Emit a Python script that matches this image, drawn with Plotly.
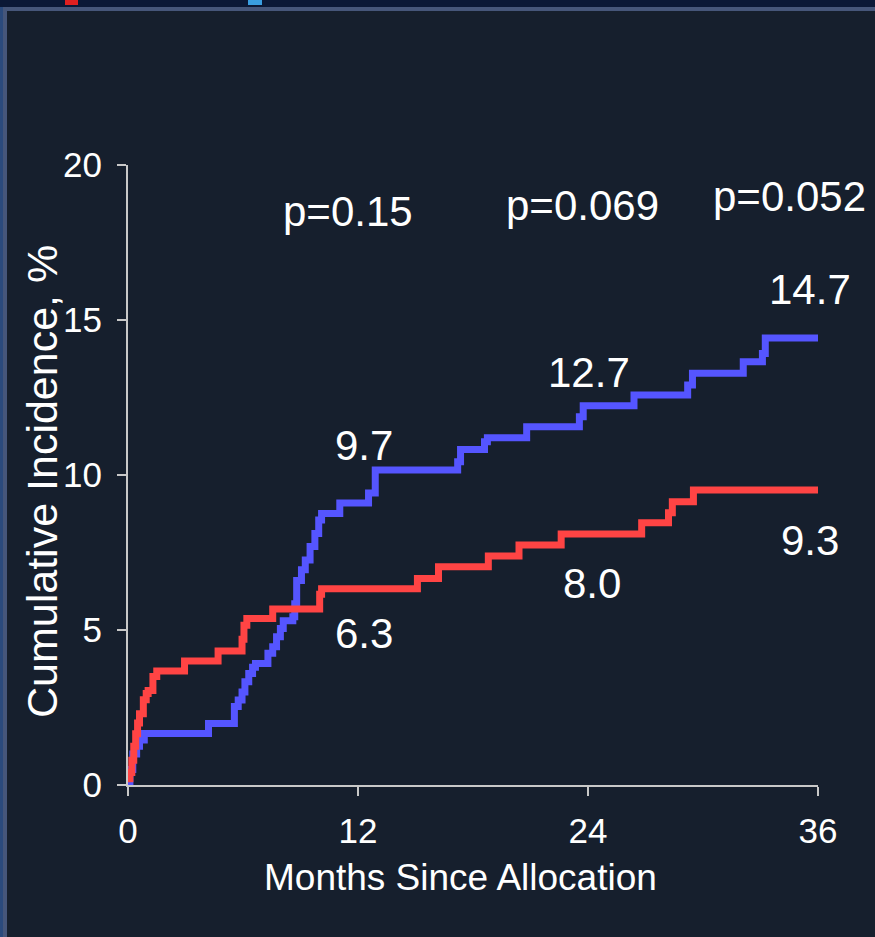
import plotly.graph_objects as go

# Data (months, cumulative incidence %)
red_t = [0, 0.1, 0.2, 0.3, 0.4, 0.5, 0.6, 0.8, 0.95, 1.05,
         1.3, 1.5, 2.95, 4.7, 5.95, 6.05, 6.2, 7.55, 10.0, 10.1,
         15.1, 16.2, 18.8, 20.4, 22.6, 26.8, 28.2, 28.4, 29.5, 36]
red_v = [0.2, 0.4, 0.8, 1.25, 1.65, 2.0, 2.3, 2.75, 2.95, 3.05,
         3.5, 3.68, 4.0, 4.32, 4.7, 5.15, 5.37, 5.68, 6.15, 6.33,
         6.66, 7.04, 7.39, 7.74, 8.1, 8.46, 8.78, 9.14, 9.52, 9.52]

blue_t = [0, 0.1, 0.25, 0.45, 0.6, 0.85,
          4.2, 5.55, 5.75, 5.95, 6.1, 6.3, 6.5, 6.65,
          7.3, 7.55, 7.75, 7.95, 8.1, 8.6, 8.7, 8.8,
          9.05, 9.25, 9.5, 9.75, 9.95, 10.1,
          11.05, 12.55, 12.9,
          17.2, 17.35, 18.6, 18.75, 20.8,
          23.55, 23.75, 26.4,
          29.2, 29.45, 32.1, 33.1, 33.25, 36]
blue_v = [0.05, 0.5, 1.0, 1.25, 1.45, 1.66,
          1.98, 2.53, 2.74, 3.0, 3.33, 3.6, 3.8, 3.92,
          4.25, 4.46, 4.78, 5.05, 5.3, 5.43, 5.85, 6.6,
          6.94, 7.26, 7.69, 8.11, 8.55, 8.76,
          9.1, 9.42, 10.16,
          10.43, 10.82, 11.07, 11.2, 11.56,
          11.88, 12.23, 12.58,
          12.9, 13.28, 13.65, 13.92, 14.42, 14.42]

x_ticks = [0, 12, 24, 36]
y_ticks = [0, 5, 10, 15, 20]

x_title = "Months Since Allocation"
y_title = "Cumulative Incidence, %"

p_labels = ["p=0.15", "p=0.069", "p=0.052"]
p_x = [11.5, 23.7, 34.5]
p_y = [18.5, 18.7, 19.0]

blue_labels = ["9.7", "12.7", "14.7"]
blue_lx = [12.3, 24.05, 35.6]
blue_ly = [10.95, 13.3, 16.0]

red_labels = ["6.3", "8.0", "9.3"]
red_lx = [12.3, 24.2, 35.6]
red_ly = [4.9, 6.5, 7.9]

BG = "#161f2d"
RED = "#ff4444"
BLUE = "#5555ff"
FONT = "Arial, Liberation Sans, sans-serif"

fig = go.Figure()
fig.add_trace(go.Scatter(x=blue_t, y=blue_v, mode="lines", line=dict(color=BLUE, width=7, shape="hv"),
                         showlegend=False, hoverinfo="x+y"))
fig.add_trace(go.Scatter(x=red_t, y=red_v, mode="lines", line=dict(color=RED, width=7, shape="hv"),
                         showlegend=False, hoverinfo="x+y"))

annotations = []
for txt, ax_, ay_ in zip(p_labels + blue_labels + red_labels,
                         p_x + blue_lx + red_lx,
                         p_y + blue_ly + red_ly):
    annotations.append(dict(x=ax_, y=ay_, xref="x", yref="y", text=txt, showarrow=False,
                            font=dict(family=FONT, size=42, color="white"),
                            xanchor="center", yanchor="middle"))


# paper coordinate helpers (plot area: x 128..818 px, y 165..785 px)
def px(v):
    return (v - 128) / 690.0


def py(v):
    return (785 - v) / 620.0


# axis titles
annotations.append(dict(x=px(460), y=py(877), xref="paper", yref="paper", text=x_title,
                        showarrow=False, xanchor="center", yanchor="middle",
                        font=dict(family=FONT, size=37, color="white")))
annotations.append(dict(x=px(42), y=py(482), xref="paper", yref="paper", text=y_title,
                        showarrow=False, xanchor="center", yanchor="middle", textangle=-90,
                        font=dict(family=FONT, size=43, color="white")))

shapes = [
    dict(type="rect", xref="paper", yref="paper", x0=px(0), x1=px(875), y0=py(7), y1=py(-1),
         fillcolor="#0b1836", line=dict(width=0), layer="below"),
    dict(type="rect", xref="paper", yref="paper", x0=px(3), x1=px(875), y0=py(11), y1=py(7),
         fillcolor="#46567a", line=dict(width=0), layer="below"),
    dict(type="rect", xref="paper", yref="paper", x0=px(0), x1=px(3), y0=py(937), y1=py(7),
         fillcolor="#2b4a7c", line=dict(width=0), layer="below"),
    dict(type="rect", xref="paper", yref="paper", x0=px(3), x1=px(7), y0=py(937), y1=py(7),
         fillcolor="#46567a", line=dict(width=0), layer="below"),
    dict(type="rect", xref="paper", yref="paper", x0=px(65), x1=px(78), y0=py(5), y1=py(-1),
         fillcolor="#e02020", line=dict(width=0), layer="below"),
    dict(type="rect", xref="paper", yref="paper", x0=px(248), x1=px(262), y0=py(5), y1=py(-1),
         fillcolor="#3a9ee0", line=dict(width=0), layer="below"),
]

fig.update_layout(
    width=875, height=937,
    margin=dict(l=128, r=57, t=165, b=152, autoexpand=False),
    paper_bgcolor=BG, plot_bgcolor=BG,
    font=dict(family=FONT, color="white"),
    annotations=annotations,
    shapes=shapes,
    xaxis=dict(range=[0, 36], tickvals=x_ticks, ticktext=[str(v) for v in x_ticks],
               showline=True, linecolor="#c8c8c8", linewidth=2,
               ticks="outside", ticklen=9, tickwidth=2, tickcolor="#c8c8c8",
               showgrid=False, zeroline=False, ticklabelstandoff=5,
               tickfont=dict(family=FONT, size=35, color="white")),
    yaxis=dict(range=[0, 20], tickvals=y_ticks, ticktext=[str(v) for v in y_ticks],
               showline=True, linecolor="#c8c8c8", linewidth=2,
               ticks="outside", ticklen=9, tickwidth=2, tickcolor="#c8c8c8",
               showgrid=False, zeroline=False, ticklabelstandoff=8,
               tickfont=dict(family=FONT, size=35, color="white")),
)

fig.write_html("out.html", config={"displayModeBar": False},
               post_script="document.body.style.margin='0';document.body.style.overflow='hidden';")
